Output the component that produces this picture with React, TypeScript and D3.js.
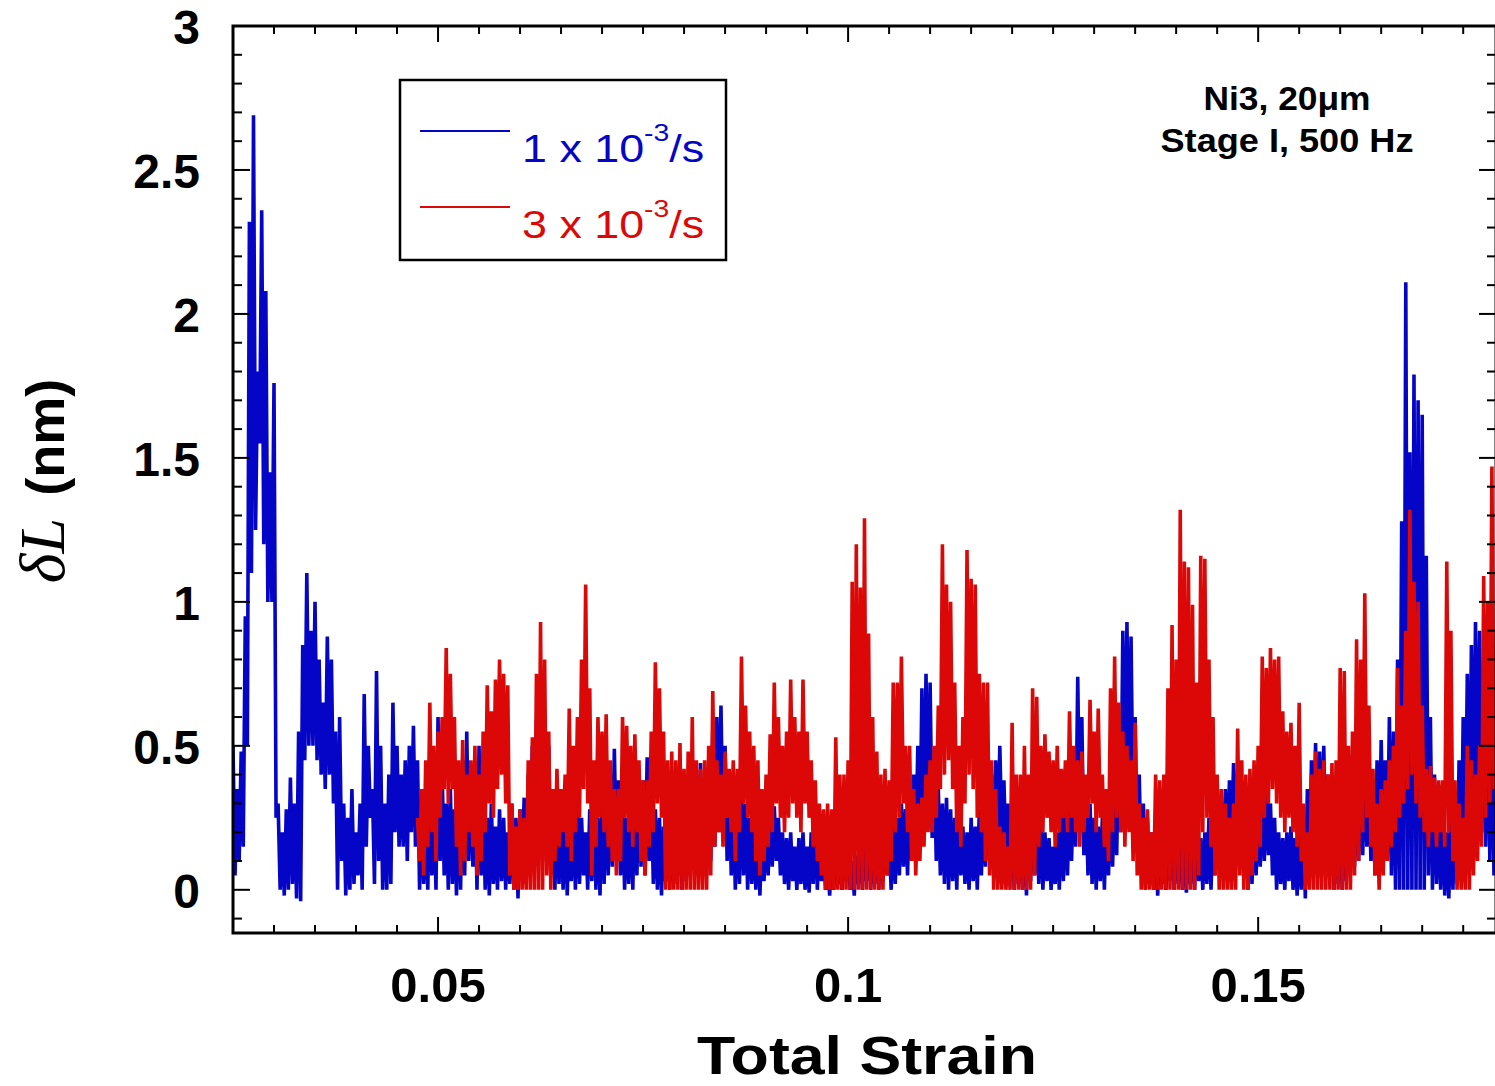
import React, { useEffect, useRef } from "react";
import * as d3 from "d3";

// sampling of the traces (strain step between successive peak/trough pairs)
const STEP = 0.0005;
const blueStart = 0.025;
const redStart = 0.0475;

// 1 x 10^-3/s : upper and lower swing of each sample pair (nm)
const blueHigh = [
  .50, .35, .48, .95, 2.32, 2.69, 1.80, 2.36, 2.08, 1.45,
  1.76, .30, .20, .28, .39, .30, .55, .85, 1.10, .90,
  1.00, .80, .65, .88, .80, .55, .60, .30, .25, .35,
  .20, .30, .68, .50, .35, .76, .50, .30, .40, .65,
  .50, .40, .45, .50, .57, .45, .30, .25, .35, .30,
  .60, .42, .30, .35, .28, .32, .45, .55, .42, .38,
  .50, .30, .25, .30, .22, .28, .25, .20, .30, .25,
  .28, .32, .40, .50, .59, .45, .58, .50, .35, .30,
  .25, .30, .22, .28, .30, .25, .20, .28, .32, .25,
  .30, .35, .40, .49, .38, .30, .25, .30, .35, .40,
  .38, .46, .35, .28, .25, .22, .30, .25, .28, .30,
  .35, .32, .38, .40, .44, .38, .45, .55, .60, .64,
  .50, .40, .30, .28, .35, .30, .25, .22, .20, .22,
  .25, .28, .29, .25, .20, .18, .20, .15, .18, .20,
  .15, .20, .25, .18, .15, .10, .12, .15, .10, .12,
  .15, .10, .12, .15, .18, .20, .15, .22, .25, .20,
  .18, .22, .25, .30, .28, .35, .40, .50, .70, .75,
  .72, .45, .35, .30, .32, .28, .25, .30, .22, .20,
  .25, .22, .28, .30, .35, .40, .45, .50, .38, .30,
  .25, .28, .20, .22, .25, .30, .28, .25, .20, .18,
  .15, .20, .25, .30, .32, .40, .74, .60, .35, .30,
  .25, .22, .25, .28, .30, .35, .55, .90, .93, .88,
  .60, .40, .30, .25, .20, .18, .20, .15, .18, .20,
  .22, .18, .15, .18, .20, .22, .18, .20, .25, .22,
  .28, .30, .35, .38, .44, .42, .35, .25, .22, .28,
  .30, .32, .35, .30, .25, .20, .18, .20, .22, .18,
  .20, .25, .35, .45, .51, .48, .50, .40, .30, .25,
  .22, .25, .30, .35, .40, .42, .47, .40, .35, .45,
  .52, .45, .60, .55, .80, 1.28, 2.11, 1.52, 1.79, 1.70,
  1.65, 1.16, .60, .40, .30, .25, .20, .25, .30, .45,
  .60, .75, .85, .93, .90, .80, .75, .70,
];
const blueLow = [
  .05, .10, .15, .50, 1.10, 1.25, 1.55, 1.20, 1.00, 1.00,
  .25, .00, -.02, .00, .02, -.03, -.04, .45, .50, .50,
  .45, .40, .35, .40, .30, .00, .10, -.02, .00, .02,
  .05, .00, .15, .25, .02, .10, .00, .00, .02, .20,
  .15, .15, .10, .20, .15, .00, .02, .00, .05, .00,
  .10, .05, .00, .02, -.02, .00, .05, .10, .08, .00,
  .05, .00, -.02, .02, .00, .03, .00, .02, .00, -.03,
  .05, .02, .10, .15, .20, .10, .15, .05, .00, .02,
  .00, -.02, .03, .00, .02, .05, .00, .03, .00, -.02,
  .02, .05, .08, .10, .05, .00, .02, .00, .05, .08,
  .05, .10, .02, .00, -.02, .03, .00, .02, .05, .00,
  .03, .05, .08, .10, .12, .05, .10, .15, .20, .18,
  .10, .05, .00, .02, .05, .00, .02, .00, -.02, .03,
  .05, .08, .10, .05, .02, .00, .03, .00, .02, .00,
  -.01, .02, .00, .03, .00, -.02, .00, .02, .00, .03,
  .00, -.02, .02, .00, .03, .00, .02, .00, .03, .05,
  .00, .02, .05, .08, .05, .10, .12, .15, .20, .25,
  .18, .10, .05, .02, .00, .03, .00, .05, .02, .00,
  .03, .00, .05, .08, .10, .12, .15, .18, .10, .05,
  .00, .02, .00, -.02, .03, .05, .02, .00, .03, .00,
  .02, .00, .03, .05, .10, .15, .20, .12, .05, .02,
  .00, .03, .00, .05, .08, .12, .20, .30, .35, .25,
  .15, .05, .00, .02, .00, -.02, .02, .00, .03, .00,
  .02, .00, -.01, .02, .00, .03, .00, .02, .00, .05,
  .08, .10, .12, .15, .18, .10, .05, .00, .02, .05,
  .08, .10, .12, .05, .00, .02, .00, .03, .00, -.02,
  .00, -.03, .05, .10, .15, .12, .10, .05, .00, .02,
  .00, .03, .05, .08, .10, .12, .15, .10, .05, .10,
  .15, .10, .05, .00, .00, .00, .00, .00, .00, .00,
  .00, .05, .00, .02, .00, -.02, -.03, .00, .02, .05,
  .10, .15, .20, .25, .20, .15, .10, .05,
];

// 3 x 10^-3/s
const redHigh = [
  .25, .35, .45, .65, .50, .55, .60, .84, .75, .60,
  .45, .52, .40, .45, .50, .40, .55, .71, .62, .73,
  .80, .75, .71, .30, .22, .28, .25, .45, .53, .75,
  .93, .80, .55, .35, .42, .35, .40, .63, .50, .60,
  .80, 1.06, .70, .45, .60, .55, .61, .45, .35, .35,
  .60, .57, .50, .54, .45, .38, .38, .55, .79, .70,
  .55, .45, .48, .45, .51, .42, .48, .60, .45, .42,
  .45, .50, .69, .45, .40, .48, .42, .45, .42, .81,
  .64, .55, .50, .45, .35, .40, .54, .72, .60, .50,
  .55, .73, .60, .55, .73, .55, .45, .38, .30, .28,
  .30, .28, .53, .40, .40, .45, 1.07, 1.20, 1.05, 1.29,
  .89, .60, .48, .40, .42, .38, .72, .72, .81, .50,
  .50, .35, .30, .32, .40, .45, .50, .64, 1.20, 1.06,
  1.00, .72, .50, .60, 1.18, 1.08, 1.06, .75, .72, .72,
  .45, .35, .22, .20, .15, .58, .40, .40, .50, .40,
  .70, .67, .50, .54, .48, .45, .50, .42, .45, .62,
  .50, .45, .48, .40, .66, .55, .63, .40, .35, .70,
  .81, .65, .55, .50, .45, .58, .30, .25, .28, .20,
  .40, .38, .40, .70, .92, .80, 1.32, 1.14, 1.12, .99,
  .72, 1.16, 1.15, .80, .60, .40, .35, .30, .25, .30,
  .56, .45, .40, .42, .45, .50, .81, .77, .84, .80,
  .81, .62, .55, .58, .50, .65, .30, .20, .40, .48,
  .42, .45, .40, .44, .45, .77, .76, .50, .55, .87,
  .80, 1.03, .64, .42, .30, .35, .38, .45, .50, .77,
  .64, .90, 1.32, 1.07, 1.00, .64, .42, .43, .39, .38,
  .38, 1.14, .90, .38, .30, .25, .50, .45, .40, .50,
  1.09, 1.00, 1.47,
];
const redLow = [
  .10, .05, .15, .20, .10, .25, .35, .30, .35, .15,
  .05, .10, .20, .15, .05, .10, .20, .30, .25, .35,
  .40, .30, .05, 0, 0, 0, 0, 0, 0, 0,
  0, .05, 0, .10, .15, .20, .15, .10, .20, .25,
  .35, .30, .05, .15, .25, .20, .15, .10, .05, .10,
  .25, .20, .15, .20, .10, .05, .15, .20, .30, .25,
  0, 0, 0, 0, 0, 0, 0, 0, 0, 0,
  0, .05, .15, .20, .15, .25, .20, .10, .20, .30,
  .25, .20, .10, .05, .10, .15, .20, .30, .25, .20,
  .25, .30, .25, .20, .30, .25, .15, .10, .05, 0,
  0, 0, 0, 0, 0, 0, 0, 0, 0, 0,
  0, 0, 0, 0, .05, .10, .20, .25, .30, .20,
  .10, .05, .10, .15, .20, .20, .25, .35, .40, .45,
  .35, .20, .15, .30, .40, .35, .25, .20, .10, .05,
  0, 0, 0, 0, 0, 0, 0, 0, 0, 0,
  .05, .15, .20, .25, .20, .15, .20, .25, .20, .25,
  .20, .15, .20, .25, .30, .20, .25, .15, .10, .20,
  .25, .20, .15, .20, .10, .05, 0, 0, 0, 0,
  0, 0, 0, 0, 0, 0, 0, 0, 0, 0,
  .05, .20, .25, .15, .05, 0, 0, 0, 0, 0,
  .05, 0, 0, .05, .10, .15, .25, .30, .35, .30,
  .25, .20, .25, .20, .15, .10, 0, 0, 0, 0,
  0, 0, 0, 0, 0, 0, 0, 0, .05, .10,
  .20, .25, .15, .05, 0, .05, .10, .15, .20, .25,
  .30, .35, .40, .30, .25, .20, .15, .20, .15, .20,
  .15, .20, .10, 0, 0, 0, 0, .05, .10, .15,
  .25, .30, .35,
];

const xTicks = [0.05, 0.1, 0.15];
const yTicks = [0, 0.5, 1, 1.5, 2, 2.5, 3];

const BLUE = "#0505c8";
const RED = "#dc0808";
const SANS = "'Liberation Sans', Arial, sans-serif";

// interleave peak / trough of every pair into one polyline
function toPoints(start: number, hi: number[], lo: number[]) {
  const pts: [number, number][] = [];
  hi.forEach((h, k) => {
    pts.push([start + k * STEP, h]);
    pts.push([start + k * STEP + STEP / 2, lo[k]]);
  });
  return pts;
}

export default function App() {
  const svgRef = useRef<SVGSVGElement>(null);

  useEffect(() => {
    const svg = d3.select(svgRef.current);
    svg.selectAll("*").remove();

    const left = 233, right = 1496, top = 26, bottom = 933;
    const x = d3.scaleLinear().domain([0.025, 0.179]).range([left, right]);
    const y = d3.scaleLinear().domain([-0.15, 3]).range([bottom, top]);

    svg.append("defs").append("clipPath").attr("id", "plot")
      .append("rect").attr("x", left).attr("y", top)
      .attr("width", right - left).attr("height", bottom - top);

    const line = d3.line<[number, number]>()
      .x((d) => x(d[0]))
      .y((d) => y(d[1]));

    const g = svg.append("g").attr("clip-path", "url(#plot)");
    g.append("path")
      .attr("d", line(toPoints(blueStart, blueHigh, blueLow)))
      .attr("fill", "none").attr("stroke", BLUE).attr("stroke-width", 3.6)
      .attr("stroke-linejoin", "bevel");
    g.append("path")
      .attr("d", line(toPoints(redStart, redHigh, redLow)))
      .attr("fill", "none").attr("stroke", RED).attr("stroke-width", 3.6)
      .attr("stroke-linejoin", "bevel");

    // frame
    svg.append("rect")
      .attr("x", left).attr("y", top)
      .attr("width", right - left).attr("height", bottom - top)
      .attr("fill", "none").attr("stroke", "#000").attr("stroke-width", 3);

    // inward ticks on all four sides
    const ticks = svg.append("g").attr("stroke", "#000").attr("stroke-width", 2);
    d3.range(6, 36).forEach((k) => {
      const v = k * 0.005;
      const len = k % 10 === 0 ? 16 : 8;
      ticks.append("line").attr("x1", x(v)).attr("x2", x(v))
        .attr("y1", bottom).attr("y2", bottom - len);
      ticks.append("line").attr("x1", x(v)).attr("x2", x(v))
        .attr("y1", top).attr("y2", top + len);
    });
    d3.range(-1, 30).forEach((k) => {
      const v = k * 0.1;
      const len = k % 5 === 0 ? 17 : 9;
      ticks.append("line").attr("x1", left).attr("x2", left + len)
        .attr("y1", y(v)).attr("y2", y(v));
      ticks.append("line").attr("x1", right).attr("x2", right - len)
        .attr("y1", y(v)).attr("y2", y(v));
    });

    // tick labels
    svg.append("g").selectAll("text").data(yTicks).enter().append("text")
      .attr("x", 200).attr("y", (d) => y(d) + 18)
      .attr("text-anchor", "end")
      .style("font-family", SANS).style("font-weight", "bold").style("font-size", "48px")
      .text((d) => String(d));
    svg.append("g").selectAll("text").data(xTicks).enter().append("text")
      .attr("x", (d) => x(d)).attr("y", 1002)
      .attr("text-anchor", "middle")
      .style("font-family", SANS).style("font-weight", "bold").style("font-size", "49px")
      .text((d) => String(d));

    // axis titles
    svg.append("text")
      .attr("x", 867).attr("y", 1074).attr("text-anchor", "middle")
      .attr("textLength", 340).attr("lengthAdjust", "spacingAndGlyphs")
      .style("font-family", SANS).style("font-weight", "bold").style("font-size", "54px")
      .text("Total Strain");

    const yl = svg.append("text")
      .attr("transform", "translate(64,481) rotate(-90)")
      .attr("text-anchor", "middle");
    yl.append("tspan")
      .style("font-family", "'Liberation Serif', 'Times New Roman', serif")
      .style("font-style", "italic").style("font-size", "64px")
      .text("δL");
    yl.append("tspan").attr("dx", 22)
      .style("font-family", SANS).style("font-weight", "bold").style("font-size", "54px")
      .text("(nm)");

    // annotation
    svg.append("text")
      .attr("x", 1287).attr("y", 110).attr("text-anchor", "middle")
      .attr("textLength", 167).attr("lengthAdjust", "spacingAndGlyphs")
      .style("font-family", SANS).style("font-weight", "bold").style("font-size", "33px")
      .text("Ni3, 20μm");
    svg.append("text")
      .attr("x", 1287).attr("y", 152).attr("text-anchor", "middle")
      .attr("textLength", 253).attr("lengthAdjust", "spacingAndGlyphs")
      .style("font-family", SANS).style("font-weight", "bold").style("font-size", "33px")
      .text("Stage I, 500 Hz");

    // legend
    const lg = svg.append("g");
    lg.append("rect").attr("x", 400).attr("y", 80).attr("width", 326).attr("height", 180)
      .attr("fill", "#fff").attr("stroke", "#000").attr("stroke-width", 2.5);
    const entries = [
      { color: BLUE, lead: "1 x 10", ly: 131, ty: 162 },
      { color: RED, lead: "3 x 10", ly: 207, ty: 238 },
    ];
    entries.forEach((e) => {
      lg.append("line").attr("x1", 420).attr("x2", 510)
        .attr("y1", e.ly).attr("y2", e.ly)
        .attr("stroke", e.color).attr("stroke-width", 2);
      const t = lg.append("text")
        .attr("transform", `translate(522,${e.ty}) scale(1.18,1)`)
        .style("font-family", SANS).style("font-size", "38px").attr("fill", e.color);
      t.append("tspan").text(e.lead);
      t.append("tspan").attr("dy", -21).style("font-size", "24px").text("-3");
      t.append("tspan").attr("dy", 21).text("/s");
    });
  }, []);

  return (
    <svg
      ref={svgRef}
      width={1495}
      height={1086}
      style={{ position: "absolute", left: 0, top: 0, background: "#fff" }}
    />
  );
}
